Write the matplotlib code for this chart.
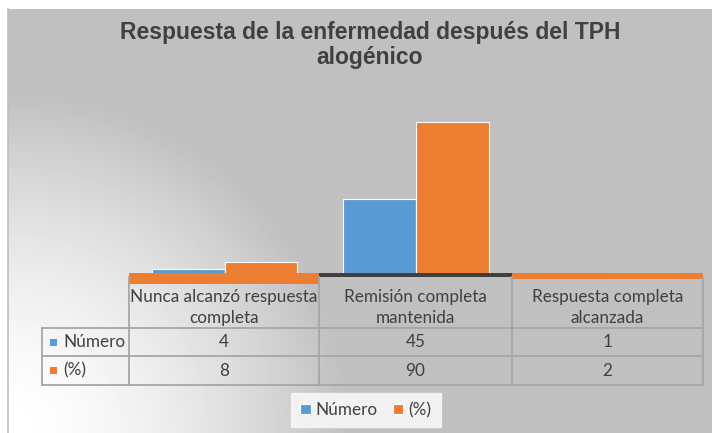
import numpy as np
import matplotlib
matplotlib.use("Agg")
import matplotlib.pyplot as plt
from matplotlib.patches import Rectangle
from matplotlib.lines import Line2D

# ---------------- data ----------------
title = "Respuesta de la enfermedad después del TPH\nalogénico"
categories = ["Nunca alcanzó respuesta\ncompleta",
              "Remisión completa\nmantenida",
              "Respuesta completa\nalcanzada"]
series_names = ["Número", "(%)"]
numero = [4, 45, 1]
porcentaje = [8, 90, 2]
colors = ["#5b9bd5", "#ed7d31"]

W, H = 712, 433
fig = plt.figure(figsize=(W / 100, H / 100), dpi=100)
fig.patch.set_facecolor("white")


def fx(px):
    return px / W


def fy(py):
    return 1 - py / H


# ---------------- gradient background ----------------
bx0, by0 = 8, 9
bg = fig.add_axes([fx(bx0), 0, fx(W) - fx(bx0), fy(by0)], zorder=0)
bw, bh = W - bx0, H - by0
xx, yy = np.meshgrid(np.arange(bw), np.arange(bh))
d = np.sqrt(xx ** 2 + (bh - yy) ** 2)
t = np.clip(d / 340.0, 0, 1) ** 1.6
val = 255 - 63 * t
bg.imshow(val, cmap="gray", vmin=0, vmax=255, aspect="auto",
          interpolation="bilinear", extent=[0, bw, bh, 0])
bg.set_axis_off()
fig.add_artist(Line2D([fx(8), fx(8)], [fy(9), 0], color="#bfbfbf", lw=1.2,
                      transform=fig.transFigure, zorder=1))

# ---------------- bars ----------------
col_edges = [42, 129, 319, 512, 703]
base_py = 276
px_per_unit = 1.711
top_py = base_py - 100 * px_per_unit
ax = fig.add_axes([fx(129), fy(base_py), fx(703) - fx(129), fy(top_py) - fy(base_py)],
                  zorder=2)
ax.patch.set_alpha(0)
x = np.arange(len(categories))
bw_ = 0.38
b1 = ax.bar(x - bw_ / 2, numero, bw_, color=colors[0], edgecolor="white",
            linewidth=0.8, label=series_names[0])
b2 = ax.bar(x + bw_ / 2, porcentaje, bw_, color=colors[1], edgecolor="white",
            linewidth=0.8, label=series_names[1])
ax.set_xlim(-0.5, len(categories) - 0.5)
ax.set_ylim(0, 100)
ax.set_axis_off()

# axis bands (as rendered in the reference)
bands = [(129, 319, 273, 284, colors[1]),
         (319, 512, 273, 277, "#404040"),
         (512, 703, 273, 279, colors[1])]
for x0, x1, y0, y1, c in bands:
    fig.add_artist(Rectangle((fx(x0), fy(y1)), fx(x1) - fx(x0), fy(y0) - fy(y1),
                             transform=fig.transFigure, color=c, lw=0, zorder=3))

# ---------------- data table ----------------
tc = "#404040"
gc = "#a6a6a6"
font = ["Lato", "DejaVu Sans"]
fs = 12.3
row_edges = [284, 328, 356, 385]


def hline(x0, x1, y):
    fig.add_artist(Line2D([fx(x0), fx(x1)], [fy(y), fy(y)], color=gc, lw=1.3,
                          transform=fig.transFigure, zorder=4))


def vline(x, y0, y1):
    fig.add_artist(Line2D([fx(x), fx(x)], [fy(y0), fy(y1)], color=gc, lw=1.3,
                          transform=fig.transFigure, zorder=4))


hline(col_edges[0], col_edges[-1], row_edges[1])
hline(col_edges[0], col_edges[-1], row_edges[2])
hline(col_edges[0], col_edges[-1], row_edges[3])
vline(col_edges[0], row_edges[1], row_edges[3])
for xe in col_edges[1:]:
    vline(xe, 277, row_edges[3])

for i, cat in enumerate(categories):
    cx = (col_edges[i + 1] + col_edges[i + 2]) / 2
    fig.text(fx(cx), fy((row_edges[0] + row_edges[1]) / 2 + 1.5), cat, ha="center",
             va="center", fontsize=fs, color=tc, family=font, linespacing=1.4)
    for r, vals in enumerate([numero, porcentaje]):
        cy = (row_edges[r + 1] + row_edges[r + 2]) / 2
        fig.text(fx(cx), fy(cy), str(vals[i]), ha="center", va="center",
                 fontsize=fs, color=tc, family=font)

for r, name in enumerate(series_names):
    cy = (row_edges[r + 1] + row_edges[r + 2]) / 2
    fig.add_artist(Rectangle((fx(50), fy(cy + 3.5)), fx(7), fy(0) - fy(7),
                             transform=fig.transFigure, color=colors[r], lw=0,
                             zorder=5))
    fig.text(fx(63), fy(cy), name, ha="left", va="center", fontsize=fs,
             color=tc, family=font)

# ---------------- title ----------------
fig.text(fx(370), fy(45), title, ha="center", va="center", fontsize=16.5,
         fontweight="bold", color="#404040",
         family=["Liberation Sans", "DejaVu Sans"], linespacing=1.15)

# ---------------- legend ----------------
leg = fig.legend([b1, b2], series_names, loc="center",
                 bbox_to_anchor=(fx(366), fy(410)), ncol=2, frameon=True,
                 fancybox=False, facecolor="#f2f2f2", edgecolor="#f2f2f2",
                 framealpha=1, handlelength=0.6, handleheight=0.6,
                 handletextpad=0.3, columnspacing=0.9, borderpad=0.55,
                 prop={"family": font, "size": fs})
for txt in leg.get_texts():
    txt.set_color(tc)

fig.savefig("out.png", dpi=100)
